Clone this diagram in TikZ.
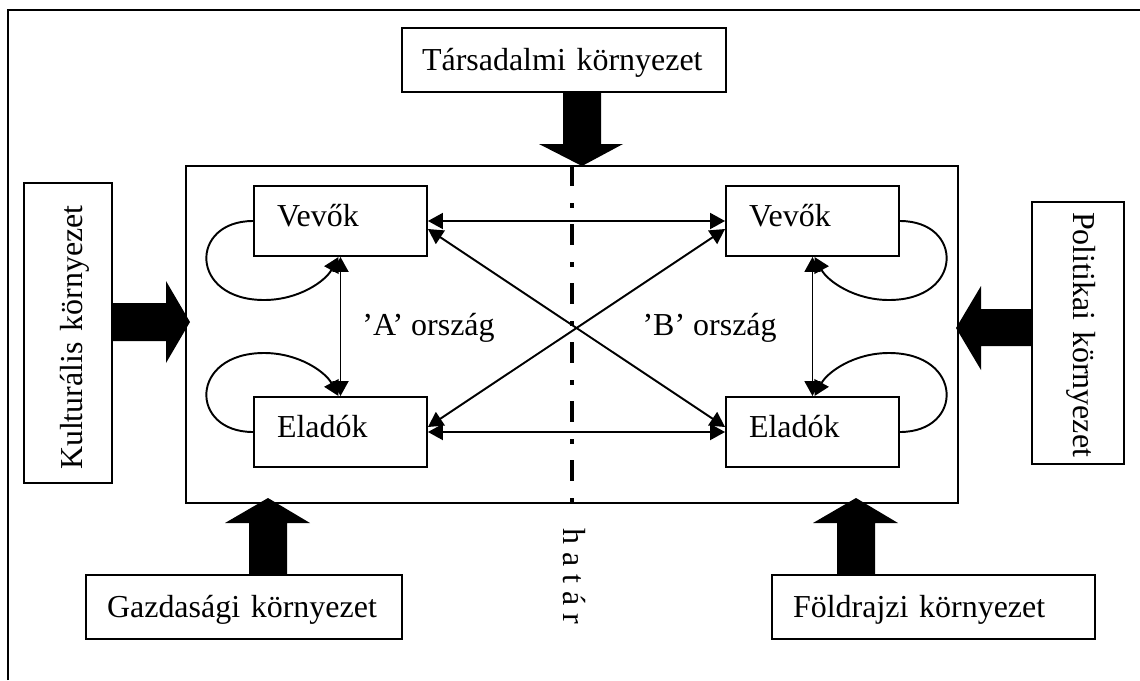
\documentclass[tikz,border=0pt]{standalone}
\usepackage{fontspec}
\usepackage{graphicx}
\setmainfont{Liberation Serif}
\usetikzlibrary{arrows.meta,calc}
\begin{document}
\begin{tikzpicture}[x=0.02cm,y=-0.02cm,
  every node/.style={font=\fontsize{18.2}{22}\selectfont},
  box/.style={draw, line width=1.1pt, rectangle, align=left},
  actor/.style={box, text width=2.54cm, inner xsep=0.46cm, minimum height=1.4cm, text height=0.2cm, text depth=0cm},
  envbox/.style={box, minimum height=1.28cm, text height=0.4cm, text depth=0cm},
  tipA/.tip={Triangle[length=0.3cm,width=0.32cm]},
  link/.style={line width=1.1pt, tipA-tipA},
  selfarc/.style={line width=1.1pt, -tipA},
  blk/.style={fill=black},
  hatarline/.style={line width=2.8pt, dash pattern=on 0.42cm off 0.34cm on 0.1cm off 0.32cm},
  lbl/.style={inner sep=0pt},
]
\useasboundingbox (0,0) rectangle (1140,680);
% outer frame
\draw[line width=1.1pt] (8,680) -- (8,10) -- (1140,10);

% main box
\node[box, minimum width=15.44cm, minimum height=6.74cm] (main) at (572,334.5) {};

% environment boxes
\node[envbox, text width=5.68cm, inner xsep=0.4cm] (tars) at (564,60) {Társadalmi környezet};
\node[envbox, text width=5.48cm, inner xsep=0.42cm] (gazd) at (244,607) {Gazdasági környezet};
\node[envbox, text width=5.62cm, inner xsep=0.42cm] (fold) at (933.5,607) {Földrajzi környezet};
\node[box, rotate=90, text width=5.48cm, inner xsep=0.26cm, minimum height=1.76cm, text height=0.6cm, text depth=0cm] (kult) at (68,333) {\mbox{Kulturális környezet}};
\node[box, rotate=-90, text width=4.84cm, inner xsep=0.2cm, minimum height=1.84cm, text height=0.2cm, text depth=0cm] (pol) at (1078,333) {\mbox{Politikai környezet}};

% actors
\node[actor] (vA) at (340.5,221) {Vevők};
\node[actor] (eA) at (340.5,432) {Eladók};
\node[actor] (vB) at (812.5,221) {Vevők};
\node[actor] (eB) at (812.5,432) {Eladók};

% country labels
\node[lbl, anchor=base west] (la) at (362,335) {’A’ ország};
\node[lbl, anchor=base east] (lb) at (777,335) {’B’ ország};

% border line
\draw[hatarline] (main.north) -- (main.south);
\node[lbl, rotate=-90, anchor=west] (hatar) at (574,528) {h a t á r};

% block arrows
\fill[blk] (563,92) -- (563,144) -- (539,144) -- (582,166) -- (623,144) -- (601,144) -- (601,92) -- cycle;
\fill[blk] (112,303) -- (166,303) -- (166,281) -- (190,322) -- (166,363) -- (166,341) -- (112,341) -- cycle;
\fill[blk] (1032,309) -- (981,309) -- (981,286) -- (956,328) -- (981,370) -- (981,346) -- (1032,346) -- cycle;
\fill[blk] (249,575) -- (249,523) -- (225,523) -- (268,498) -- (310,523) -- (287,523) -- (287,575) -- cycle;
\fill[blk] (837,575) -- (837,523) -- (813,523) -- (856,498) -- (898,523) -- (875,523) -- (875,575) -- cycle;

% connectors
\draw[link] (vA.east) -- (vB.west);
\draw[link] (eA.east) -- (eB.west);
\draw[link] ([yshift=-0.16cm]vA.east) -- ([yshift=0.1cm]eB.west);
\draw[link] ([yshift=0.1cm]eA.east) -- ([yshift=-0.16cm]vB.west);
\draw[link] (vA.south) -- (eA.north);
\draw[link] (vB.south) -- (eB.north);

% self loops
\draw[selfarc] (vA.west) .. controls ($(vA.west)+(-64,0)$) and ($(vA.west)+(-64,79)$) .. ($(vA.west)+(11,79)$)
  .. controls ($(vA.west)+(46,79)$) and ($(vA.south)+(-15,24)$) .. ($(vA.south)+(-2,0)$);
\draw[selfarc] (eA.west) .. controls ($(eA.west)+(-64,0)$) and ($(eA.west)+(-64,-79)$) .. ($(eA.west)+(11,-79)$)
  .. controls ($(eA.west)+(46,-79)$) and ($(eA.north)+(-15,-24)$) .. ($(eA.north)+(-2,0)$);
\draw[selfarc] (vB.east) .. controls ($(vB.east)+(64,0)$) and ($(vB.east)+(64,79)$) .. ($(vB.east)+(-11,79)$)
  .. controls ($(vB.east)+(-46,79)$) and ($(vB.south)+(15,24)$) .. ($(vB.south)+(2,0)$);
\draw[selfarc] (eB.east) .. controls ($(eB.east)+(64,0)$) and ($(eB.east)+(64,-79)$) .. ($(eB.east)+(-11,-79)$)
  .. controls ($(eB.east)+(-46,-79)$) and ($(eB.north)+(15,-24)$) .. ($(eB.north)+(2,0)$);
\end{tikzpicture}
\end{document}
